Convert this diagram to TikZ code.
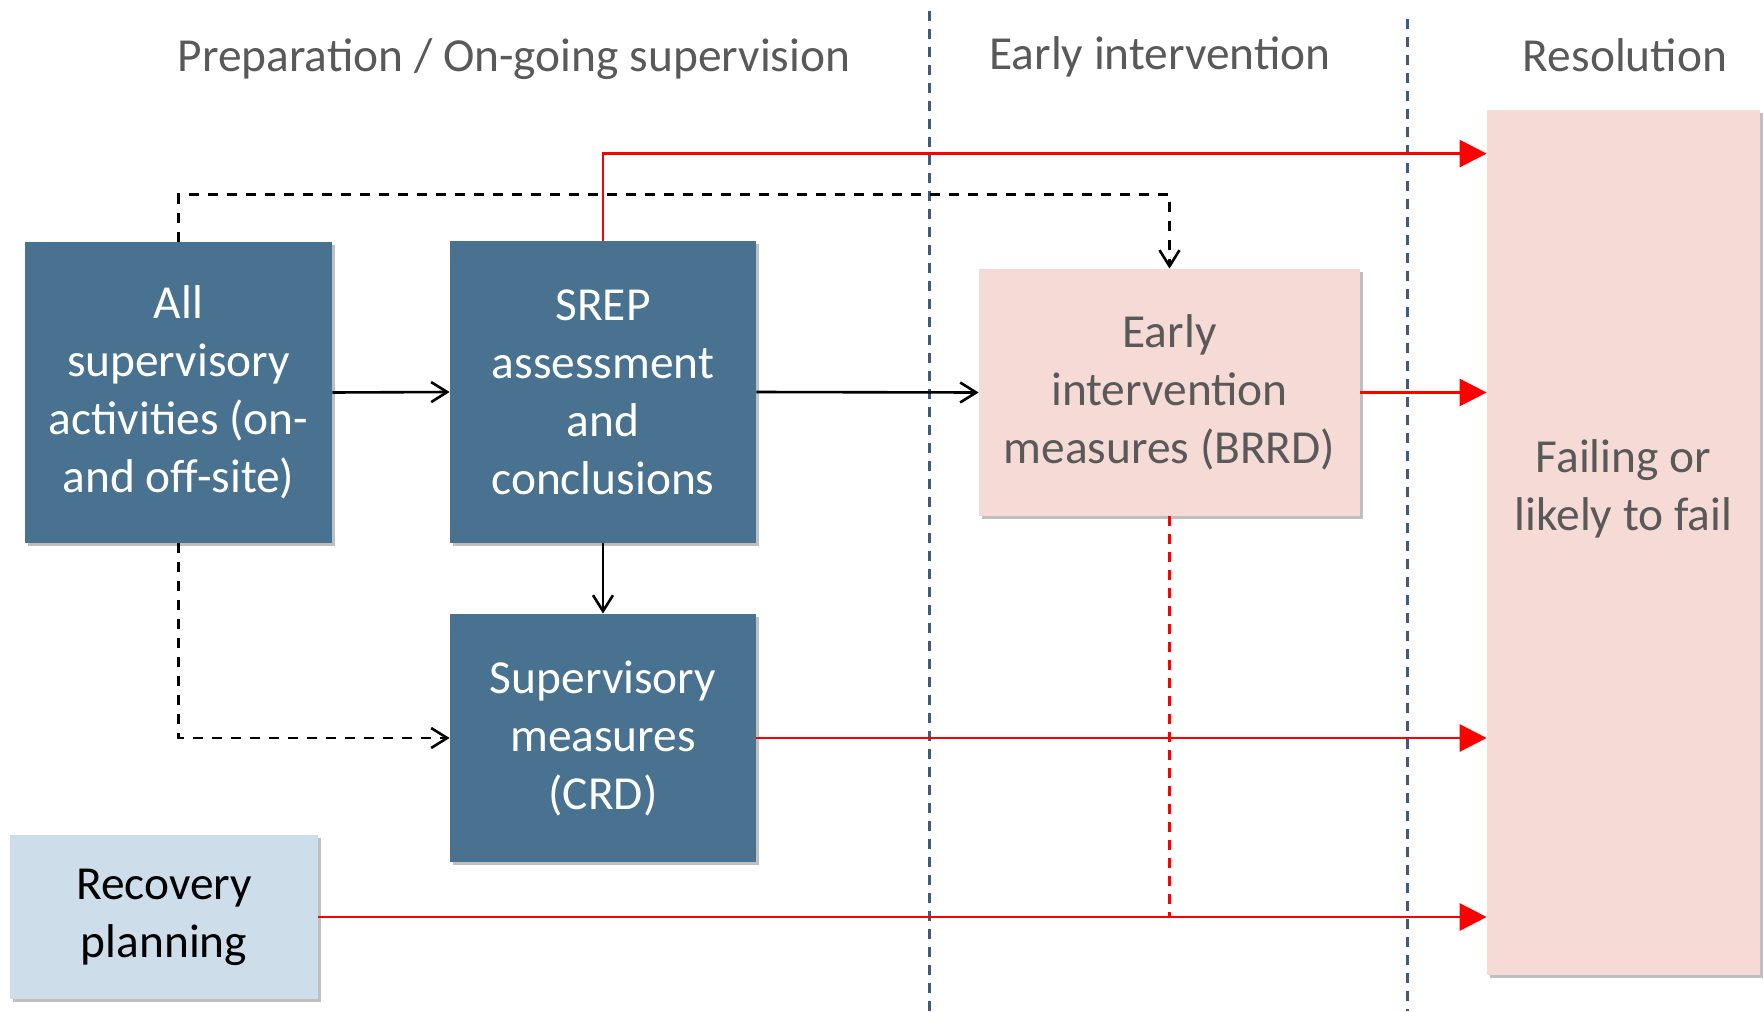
\documentclass[tikz,border=0pt]{standalone}
\usepackage{fontspec}
\setmainfont{Carlito}
\usetikzlibrary{arrows.meta,calc,shadows}
\definecolor{darkbox}{RGB}{72,114,143}
\definecolor{pinkbox}{RGB}{246,218,213}
\definecolor{lightbox}{RGB}{205,221,234}
\definecolor{greytext}{RGB}{89,89,89}
\definecolor{sepline}{RGB}{62,92,120}
\definecolor{redline}{RGB}{255,0,0}
\tikzset{
  boxbase/.style={rectangle, align=center, inner sep=0pt,
    font=\fontsize{23.7pt}{29pt}\selectfont,
    drop shadow={shadow xshift=1.5pt, shadow yshift=-1.5pt, opacity=0.25, fill=black}},
  darkstyle/.style={boxbase, fill=darkbox, text=white},
  pinkstyle/.style={boxbase, fill=pinkbox, text=greytext},
  lightstyle/.style={boxbase, fill=lightbox, text=black},
  titlestyle/.style={font=\fontsize{23.7pt}{29pt}\selectfont, text=greytext, inner sep=0pt},
  blackarrow/.style={draw=black, line width=1.3pt, -{Straight Barb[length=8pt,width=10pt,line width=1.3pt]}},
  blackdash/.style={blackarrow, dash pattern=on 5pt off 4.5pt},
  redarrow/.style={draw=redline, line width=1.4pt, -{Triangle[length=13.5pt,width=13.5pt]}},
  reddash/.style={draw=redline, line width=1.3pt, dash pattern=on 5pt off 4pt},
  sepstyle/.style={draw=sepline, line width=1.5pt, dash pattern=on 5pt off 4pt},
}
\begin{document}
\begin{tikzpicture}[x=0.5pt,y=-0.5pt]
\useasboundingbox (0,0) rectangle (1764,1011);
% separators
\coordinate (s1t) at (929,11);
\coordinate (s1b) at (929,1011);
\coordinate (s2t) at (1407,19);
\coordinate (s2b) at (1407,1011);
\draw[sepstyle] (s1t) -- (s1b);
\draw[sepstyle] (s2t) -- (s2b);
% titles
\node[titlestyle] (t1) at (514,59) {Preparation / On-going supervision};
\node[titlestyle] (t2) at (1160,57) {Early intervention};
\node[titlestyle] (t3) at (1625,55) {Resolution};
% boxes
\node[darkstyle, minimum width=153.5pt, minimum height=150.5pt] (all) at (178.5,392.5)
  {All\\supervisory\\activities (on-\\and off-site)};
\node[darkstyle, minimum width=153pt, minimum height=151pt] (srep) at (603,392)
  {SREP\\assessment\\and\\conclusions};
\node[darkstyle, minimum width=153pt, minimum height=124pt] (meas) at (603,738)
  {Supervisory\\measures\\(CRD)};
\node[pinkstyle, minimum width=190.5pt, minimum height=123.5pt] (early) at (1169.5,392.5)
  {Early\\intervention\\measures (BRRD)};
\node[lightstyle, minimum width=154pt, minimum height=82pt] (rec) at (164,917)
  {Recovery\\planning};
\node[pinkstyle, minimum width=136.5pt, minimum height=432.5pt] (fail) at (1623.5,542.5) {};
\node[titlestyle] (failtext) at (1623.5,490) {\begin{tabular}{c}Failing or\\[-0.1pt]likely to fail\end{tabular}};
% connectors
\draw[reddash] (early.south) -- (early.south |- rec.east);
\draw[redarrow] (srep.north) |- ($(fail.north west)+(0,44)$);
\draw[blackdash] (all.north) -- ++(0,-47) -| (early.north);
\draw[blackarrow] (all.east) -- (srep.west);
\draw[blackarrow] (srep.east) -- (early.west);
\draw[blackarrow] (srep.south) -- (meas.north);
\draw[blackdash] (all.south) |- (meas.west);
\draw[redarrow] (early.east) -- (early.east -| fail.west);
\draw[redarrow] (meas.east) -- (meas.east -| fail.west);
\draw[redarrow] (rec.east) -- (rec.east -| fail.west);
\end{tikzpicture}
\end{document}
